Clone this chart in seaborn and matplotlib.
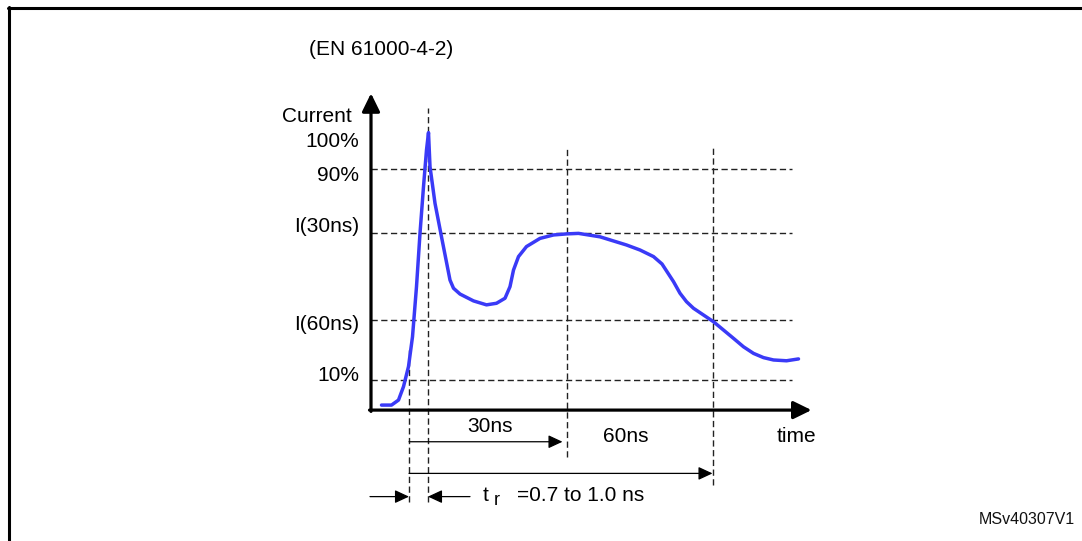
import numpy as np
import seaborn as sns
import matplotlib.pyplot as plt
from matplotlib.lines import Line2D

# ESD current waveform (EN 61000-4-2), schematic units:
# time axis in arbitrary schematic units, current in % of peak level
t_curve = [2.1, 4.1, 5.5, 6.5, 7.5, 8.3, 9.1, 9.8, 10.5, 11.1, 11.5, 11.8,
           12.8, 14.1, 15.8, 16.5, 17.8, 20.5, 23.1, 25.1, 26.8, 27.8, 28.5,
           29.5, 31.1, 33.8, 36.5, 39.1, 41.5, 45.8, 51.1, 53.8, 56.5, 58.2,
           60.5, 61.8, 63.1, 64.5, 68.5, 72.5, 74.5, 76.5, 78.5, 80.5, 83.1, 85.5]
i_curve = [0.5, 0.5, 2.4, 7.5, 15.1, 26.4, 45.4, 65.6, 83.3, 97.2, 103.8, 90.9,
           77.0, 64.3, 47.9, 44.8, 42.6, 40.0, 38.5, 39.1, 41.0, 45.4, 51.7,
           56.8, 60.6, 63.7, 65.0, 65.4, 65.6, 64.3, 61.2, 59.3, 56.8, 54.0,
           47.3, 42.9, 39.7, 37.2, 32.1, 25.8, 22.6, 20.1, 18.5, 17.6, 17.3, 18.0]

level_names = ['10%', 'I(60ns)', 'I(30ns)', '90%']
level_values = [10, 32.8, 65.7, 90]
level_label_y = [11.9, 30.9, 68.1, 87.7]

# time markers: 10% crossing, peak, 30ns, 60ns
marker_t = [7.6, 11.4, 39.2, 68.4]
marker_top = [22.6, 113.0, 97.9, 99.1]
marker_bottom = [-36.1, -36.1, -19.1, -29.8]

blue = '#3a3af7'
dash = (0, (4.5, 2.5))

sns.set_style('white')
plt.rcParams['font.family'] = ['Liberation Sans', 'DejaVu Sans']

fig = plt.figure(figsize=(10.82, 5.41), dpi=100)
ax = fig.add_axes([0, 0, 1, 1])
ax.set_xlim(-74.2, 142.2)
ax.set_ylim(-51.03, 154.08)
ax.set_axis_off()

# grid of reference levels and time markers
ax.hlines(level_values, 0, 84.1, colors='#222222', lw=1.0, linestyles=dash)
ax.vlines(marker_t, marker_bottom, marker_top, colors='#222222', lw=1.0, linestyles=dash)

# axes with arrows
axis_y = -1.4
ax.annotate('', xy=(88.1, axis_y), xytext=(-0.3, axis_y),
            arrowprops=dict(arrowstyle='-|>,head_length=0.55,head_width=0.27',
                            lw=2.3, color='black', mutation_scale=20,
                            shrinkA=0, shrinkB=0))
ax.annotate('', xy=(0, 118.7), xytext=(0, axis_y - 0.5),
            arrowprops=dict(arrowstyle='-|>,head_length=0.55,head_width=0.27',
                            lw=2.3, color='black', mutation_scale=20,
                            shrinkA=0, shrinkB=0))

# waveform
sns.lineplot(x=t_curve, y=i_curve, sort=False, color=blue, lw=2.5, ax=ax)
ax.lines[-1].set_solid_joinstyle('round')
ax.lines[-1].set_solid_capstyle('round')

# y labels
txt = dict(fontsize=15, color='black')
for name, y in zip(level_names, level_label_y):
    ax.text(-2.4, y, name, ha='right', va='center', **txt)
ax.text(-2.4, 100.4, '100%', ha='right', va='center', **txt)
ax.text(-3.8, 109.8, 'Current', ha='right', va='center', **txt)
ax.text(2.1, 135.2, '(EN 61000-4-2)', ha='center', va='center', **txt)

# duration arrows
dim = dict(arrowstyle='-|>,head_length=0.43,head_width=0.2', lw=0.9,
           color='black', mutation_scale=20, shrinkA=0, shrinkB=0)
ax.annotate('', xy=(38.3, -13.4), xytext=(marker_t[0], -13.4), arrowprops=dim)
ax.annotate('', xy=(68.3, -25.4), xytext=(marker_t[0], -25.4), arrowprops=dim)
ax.annotate('', xy=(marker_t[0], -34.2), xytext=(-0.2, -34.2), arrowprops=dim)
ax.annotate('', xy=(marker_t[1], -34.2), xytext=(19.8, -34.2), arrowprops=dim)

ax.text(23.8, -7.7, '30ns', ha='center', va='center', **txt)
ax.text(51.0, -11.5, '60ns', ha='center', va='center', **txt)
ax.text(85.1, -11.6, 'time', ha='center', va='center', **txt)
ax.text(22.4, -33.6, 't', ha='left', va='center', **txt)
ax.text(24.6, -35.6, 'r', ha='left', va='center', fontsize=13, color='black')
ax.text(29.2, -33.6, '=0.7 to 1.0 ns', ha='left', va='center', **txt)

# frame and reference code
fig.add_artist(Line2D([8 / 1082, 1], [1 - 8 / 541, 1 - 8 / 541], color='black', lw=2.2,
                      transform=fig.transFigure))
fig.add_artist(Line2D([9 / 1082, 9 / 1082], [0, 1 - 7 / 541], color='black', lw=2.2,
                      transform=fig.transFigure))
fig.text(1075 / 1082, 1 - 520 / 541, 'MSv40307V1', ha='right', va='center',
         fontsize=11.5, color='#111111')

fig.savefig('out.png', dpi=100)
